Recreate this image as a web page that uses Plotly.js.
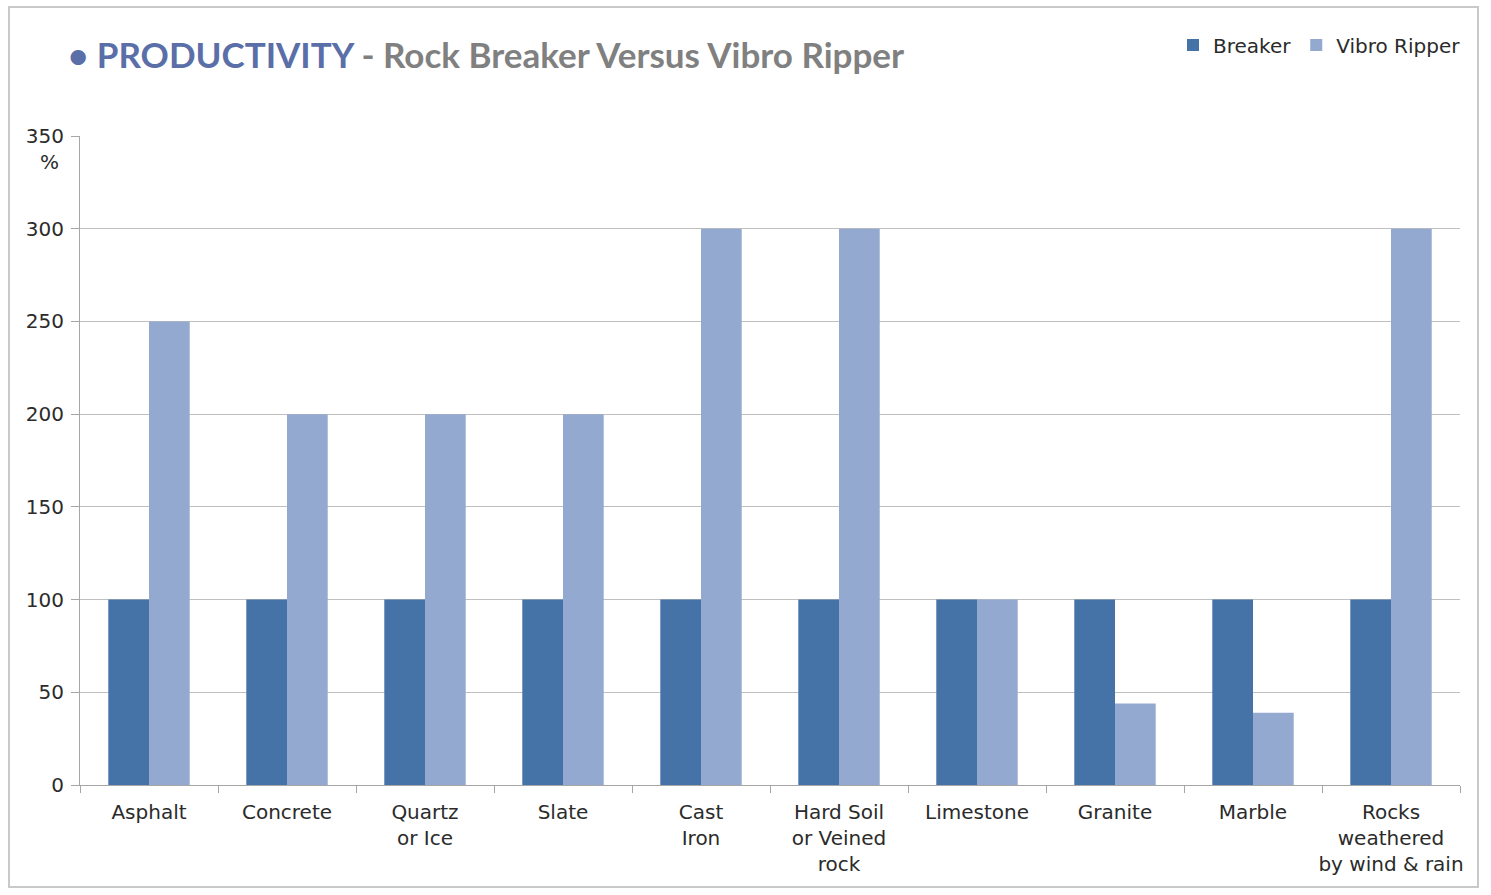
<!DOCTYPE html>
<html>
<head>
<meta charset="utf-8">
<script src="https://cdn.plot.ly/plotly-3.0.1.min.js"></script>
<style>
html,body{margin:0;padding:0;background:#fff;}
#frame{position:absolute;left:8px;top:6px;width:1471px;height:882px;border:2px solid #c9c9c9;box-sizing:border-box;}
#chart{position:absolute;left:0;top:0;width:1491px;height:895px;}
</style>
</head>
<body>
<div id="frame"></div>
<div id="chart"></div>
<script>
var categories = ["Asphalt","Concrete","Quartz<br>or Ice","Slate","Cast<br>Iron","Hard Soil<br>or Veined<br>rock","Limestone","Granite","Marble","Rocks<br>weathered<br>by wind &amp; rain"];
var breaker = [100,100,100,100,100,100,100,100,100,100];
var vibroRipper = [250,200,200,200,300,300,100,44,39,300];
var yTicks = [0,50,100,150,200,250,300,350];

var lblFont = {family:"DejaVu Sans, Verdana, sans-serif", size:20, color:"#2b2b2b"};

var traces = [
  {type:"bar", name:"Breaker", x:categories, y:breaker, marker:{color:"#4572a7"}, hoverinfo:"none"},
  {type:"bar", name:"Vibro Ripper", x:categories, y:vibroRipper, marker:{color:"#93a9cf"}, hoverinfo:"none"}
];

var layout = {
  width:1491, height:895,
  paper_bgcolor:"rgba(0,0,0,0)", plot_bgcolor:"rgba(0,0,0,0)",
  margin:{l:80, r:31, t:136, b:110},
  barmode:"group", bargap:0.41, bargroupgap:0,
  title:{
    text:'<span style="color:#5a6ea8">• PRODUCTIVITY</span><span style="color:#808080"> - Rock Breaker Versus Vibro Ripper</span>',
    font:{family:"Lato, Calibri, sans-serif", size:35, weight:"bold"},
    xref:"container", yref:"container", x:68/1491, xanchor:"left", y:1-56/895, yanchor:"middle"
  },
  xaxis:{
    type:"category", tickfont:lblFont, tickangle:0, showgrid:false, showline:true, linecolor:"#a6a6a6", linewidth:1,
    ticks:"outside", tickson:"boundaries", ticklen:7, tickcolor:"#a6a6a6", ticklabelstandoff:9, fixedrange:true
  },
  yaxis:{
    range:[0,350], tickvals:yTicks, tickfont:lblFont, showgrid:true, gridcolor:"#bfbfbf", gridwidth:1,
    showline:true, linecolor:"#a6a6a6", ticks:"outside", ticklen:8, tickcolor:"#a6a6a6", ticklabelstandoff:3, zeroline:false, fixedrange:true
  },
  legend:{
    orientation:"h", x:1466/1491, xanchor:"right", y:1-45/895, yanchor:"middle", yref:"container", xref:"container",
    font:{family:"DejaVu Sans, Verdana, sans-serif", size:20, color:"#2b2b2b"}, itemwidth:30, traceorder:"normal"
  },
  annotations:[
    {text:"%", xref:"paper", yref:"paper", x:-0.022, xanchor:"center", y:1, yshift:-26, yanchor:"middle", showarrow:false, font:lblFont}
  ],
  showlegend:true
};

Plotly.newPlot("chart", traces, layout, {displayModeBar:false, staticPlot:true});
</script>
</body>
</html>
